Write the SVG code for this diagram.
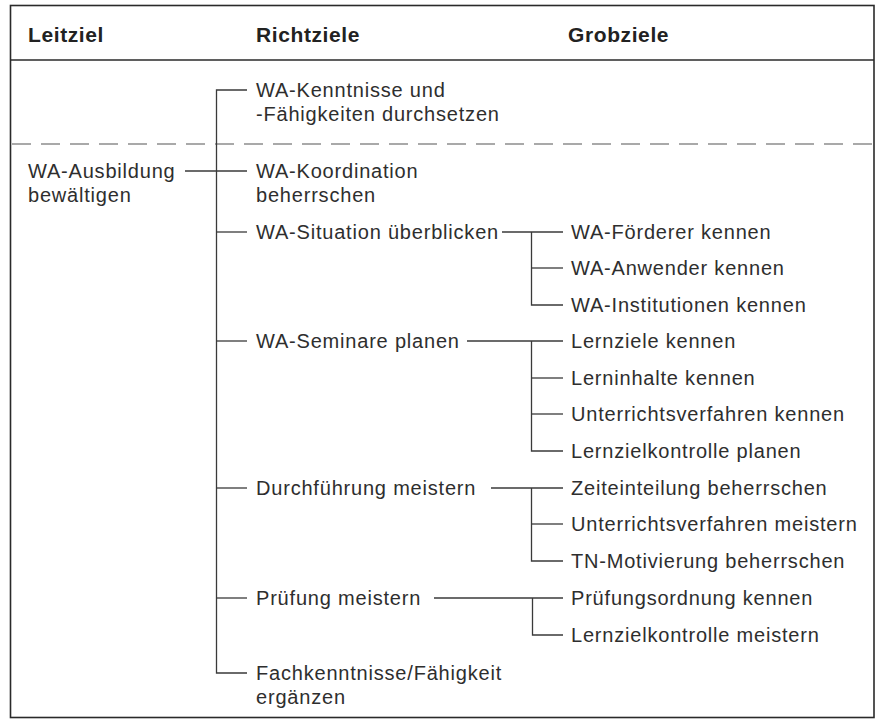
<svg xmlns="http://www.w3.org/2000/svg" width="881" height="720" viewBox="0 0 881 720">
<style>
  .t { font-family: "Liberation Sans", Arial, sans-serif; font-size: 20px; letter-spacing: 0.8px; fill: #2e2e2e; }
  .h { font-family: "Liberation Sans", Arial, sans-serif; font-size: 21px; font-weight: bold; letter-spacing: 0.6px; fill: #222; }
  .ln { stroke: #3a3a3a; stroke-width: 1.3; fill: none; }
  .frame { stroke: #2a2a2a; stroke-width: 1.6; fill: none; }
  .dash { stroke: #555; stroke-width: 1.2; stroke-dasharray: 19 10; fill: none; }
</style>
<rect width="881" height="720" fill="#ffffff"/>
<g id="table">
  <rect class="frame" x="10.5" y="5.5" width="863.5" height="712"/>
  <line class="frame" x1="10.5" y1="60" x2="874" y2="60"/>
  <line class="dash" x1="12" y1="144" x2="874" y2="144"/>
  <text class="h" x="28" y="42">Leitziel</text>
  <text class="h" x="256" y="42">Richtziele</text>
  <text class="h" x="568" y="42">Grobziele</text>
</g>
<g id="connectors">
  <!-- Leitziel to Richtziele -->
  <line class="ln" x1="185" y1="171" x2="247" y2="171"/>
  <path class="ln" d="M247,90 H216.5 V673 H247"/>
  <line class="ln" x1="216.5" y1="232" x2="247" y2="232"/>
  <line class="ln" x1="216.5" y1="341" x2="247" y2="341"/>
  <line class="ln" x1="216.5" y1="488" x2="247" y2="488"/>
  <line class="ln" x1="216.5" y1="598" x2="247" y2="598"/>
  <!-- WA-Situation -->
  <line class="ln" x1="502" y1="232" x2="563" y2="232"/>
  <path class="ln" d="M531.5,232 V305 H563"/>
  <line class="ln" x1="531.5" y1="268" x2="563" y2="268"/>
  <!-- WA-Seminare -->
  <line class="ln" x1="467" y1="341" x2="563" y2="341"/>
  <path class="ln" d="M531.5,341 V451 H563"/>
  <line class="ln" x1="531.5" y1="378" x2="563" y2="378"/>
  <line class="ln" x1="531.5" y1="414" x2="563" y2="414"/>
  <!-- Durchfuehrung -->
  <line class="ln" x1="491" y1="488" x2="563" y2="488"/>
  <path class="ln" d="M531.5,488 V561 H563"/>
  <line class="ln" x1="531.5" y1="524" x2="563" y2="524"/>
  <!-- Pruefung -->
  <line class="ln" x1="434" y1="598" x2="563" y2="598"/>
  <path class="ln" d="M532.5,598 V635 H563"/>
</g>
<g id="leitziel">
  <text class="t" x="28" y="178">WA-Ausbildung</text>
  <text class="t" x="28" y="202">bewältigen</text>
</g>
<g id="r-kenntnisse">
  <text class="t" x="256" y="97">WA-Kenntnisse und</text>
  <text class="t" x="256" y="121">-Fähigkeiten durchsetzen</text>
</g>
<g id="r-koordination">
  <text class="t" x="256" y="178">WA-Koordination</text>
  <text class="t" x="256" y="202">beherrschen</text>
</g>
<g id="r-situation"><text class="t" x="256" y="239">WA-Situation überblicken</text></g>
<g id="r-seminare"><text class="t" x="256" y="348">WA-Seminare planen</text></g>
<g id="r-durchfuehrung"><text class="t" x="256" y="495">Durchführung meistern</text></g>
<g id="r-pruefung"><text class="t" x="256" y="605">Prüfung meistern</text></g>
<g id="r-fach">
  <text class="t" x="256" y="680">Fachkenntnisse/Fähigkeit</text>
  <text class="t" x="256" y="704">ergänzen</text>
</g>
<g id="g-foerderer"><text class="t" x="571" y="239">WA-Förderer kennen</text></g>
<g id="g-anwender"><text class="t" x="571" y="275">WA-Anwender kennen</text></g>
<g id="g-institutionen"><text class="t" x="571" y="312">WA-Institutionen kennen</text></g>
<g id="g-lernziele"><text class="t" x="571" y="348">Lernziele kennen</text></g>
<g id="g-lerninhalte"><text class="t" x="571" y="385">Lerninhalte kennen</text></g>
<g id="g-uv-kennen"><text class="t" x="571" y="421">Unterrichtsverfahren kennen</text></g>
<g id="g-lzk-planen"><text class="t" x="571" y="458">Lernzielkontrolle planen</text></g>
<g id="g-zeiteinteilung"><text class="t" x="571" y="495">Zeiteinteilung beherrschen</text></g>
<g id="g-uv-meistern"><text class="t" x="571" y="531">Unterrichtsverfahren meistern</text></g>
<g id="g-tn"><text class="t" x="571" y="568">TN-Motivierung beherrschen</text></g>
<g id="g-pruefungsordnung"><text class="t" x="571" y="605">Prüfungsordnung kennen</text></g>
<g id="g-lzk-meistern"><text class="t" x="571" y="642">Lernzielkontrolle meistern</text></g>
</svg>
